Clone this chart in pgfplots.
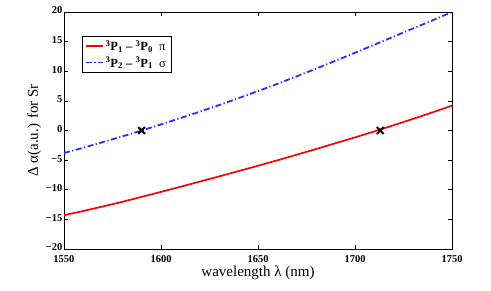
\documentclass[border=0pt]{standalone}
\usepackage{fontspec}
\setmainfont{Liberation Serif}
\usepackage{pgfplots}
\pgfplotsset{compat=1.18}
\begin{document}
\begin{tikzpicture}
\begin{axis}[name=ax,
  scale only axis, width=388pt, height=237pt,
  xmin=1550, xmax=1750, ymin=-20, ymax=20,
  xtick={1550,1600,1650,1700,1750},
  xticklabels={1550,1600,1650,1700,1750},
  ytick={-20,-15,-10,-5,0,5,10,15,20},
  yticklabels={−20,−15,−10,−5,0,5,10,15,20},
  tick align=inside, major tick length=4pt,
  tick style={black, line width=0.6pt},
  axis line style={line width=0.8pt},
  ticklabel style={font=\fontsize{10.5}{12}\selectfont\bfseries},
  xticklabel style={yshift=-2.5pt},
  yticklabel style={xshift=2pt, yshift=1.5pt},
  xlabel={wavelength λ (nm)},
  ylabel={Δ α(a.u.) for Sr},
  label style={font=\fontsize{15}{17}\selectfont},
  xlabel style={yshift=3pt},
  ylabel style={yshift=-2pt},
  legend style={at={(rel axis cs:0.046,0.899)}, anchor=north west,
    font=\fontsize{12.5}{14}\selectfont, draw=black, line width=0.6pt,
    inner xsep=3pt, inner ysep=2pt, row sep=1pt},
  legend cell align=left,
  legend image post style={line width=1.4pt},
]
\addplot[red, line width=1.7pt] coordinates {
(1550,-14.30) (1560,-13.58) (1570,-12.82) (1580,-12.04) (1590,-11.20)
(1600,-10.36) (1610,-9.50) (1620,-8.62) (1630,-7.74) (1640,-6.85)
(1650,-5.95) (1660,-5.03) (1670,-4.08) (1680,-3.12) (1690,-2.14)
(1700,-1.16) (1710,-0.15) (1720,0.90) (1730,1.97) (1740,3.07) (1750,4.20)};
\addlegendentry{\bfseries \textsuperscript{3}P\textsubscript{1} – \textsuperscript{3}P\textsubscript{0} \ \mdseries π}
\addplot[color={rgb,255:red,30;green,50;blue,255}, line width=1.8pt, dash pattern=on 6pt off 2.5pt on 1.2pt off 2.5pt] coordinates {
(1550,-3.80) (1560,-2.90) (1570,-1.96) (1580,-1.00) (1590,0.00)
(1600,1.03) (1610,2.09) (1620,3.18) (1630,4.30) (1640,5.46)
(1650,6.65) (1660,7.88) (1670,9.15) (1680,10.45) (1690,11.78)
(1700,13.12) (1710,14.48) (1720,15.85) (1730,17.23) (1740,18.60) (1750,20.00)};
\addlegendentry{\bfseries \textsuperscript{3}P\textsubscript{2} – \textsuperscript{3}P\textsubscript{1} \ \mdseries σ}
\addplot[only marks, mark=x, mark size=4.8pt, black, mark options={line width=2pt}, forget plot] coordinates {(1590,0) (1713,0)};
\end{axis}
\path[use as bounding box] ([xshift=-64pt,yshift=-41pt]ax.south west) rectangle ([xshift=39pt,yshift=12pt]ax.north east);
\end{tikzpicture}
\end{document}
